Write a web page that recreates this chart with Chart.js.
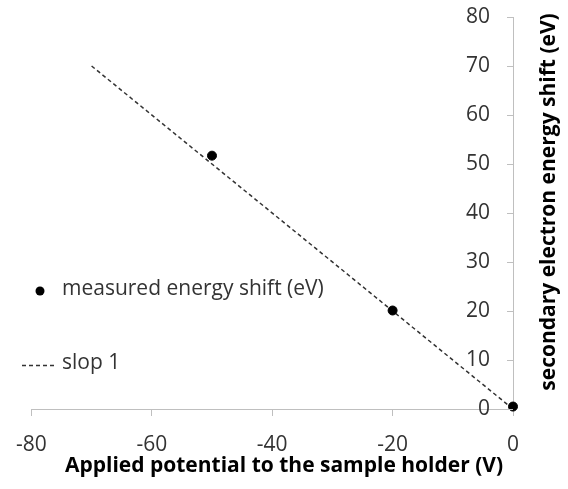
<!DOCTYPE html>
<html>
<head>
<meta charset="utf-8">
<title>Energy shift vs applied potential</title>
<script src="https://cdn.jsdelivr.net/npm/chart.js@4/dist/chart.umd.min.js"></script>
<style>
    html, body { margin: 0; padding: 0; background: #fff; }
    #wrap { position: relative; width: 568px; height: 489px; }
</style>
</head>
<body>
<div id="wrap"><canvas id="shiftChart"></canvas></div>
<script>
// Measured points (applied potential V, energy shift eV)
const potentials = [-50, -20, 0];
const energyShifts = [51.7, 20.1, 0.5];

// Reference line with slope 1
const slopeX = [-70, 0];
const slopeY = [70, 0];

// Axis ticks
const xTicks = [-80, -60, -40, -20, 0];
const yTicks = [0, 10, 20, 30, 40, 50, 60, 70, 80];

const seriesLabels = ['measured energy shift (eV)', 'slop 1'];
const xTitle = 'Applied potential to the sample holder (V)';
const yTitle = 'secondary electron energy shift (eV)';

const FONT = '"Open Sans", sans-serif';
const AXIS_GREY = '#bfbfbf';
const TEXT_GREY = '#333';

const measured = potentials.map((x, i) => ({ x: x, y: energyShifts[i] }));
const slopeLine = slopeX.map((x, i) => ({ x: x, y: slopeY[i] }));

// y axis sits on the right with labels inside; titles are centred on the page
const extrasPlugin = {
    id: 'extras',
    afterDraw(chart) {
        const ctx = chart.ctx;
        const y = chart.scales.y;
        const area = chart.chartArea;
        ctx.save();

        // inward tick marks on the y axis
        ctx.strokeStyle = AXIS_GREY;
        ctx.lineWidth = 1;
        y.ticks.forEach(t => {
            const py = Math.round(y.getPixelForValue(t.value)) + 0.5;
            ctx.beginPath();
            ctx.moveTo(area.right - 6, py);
            ctx.lineTo(area.right, py);
            ctx.stroke();
        });

        // x axis title
        ctx.fillStyle = '#000';
        ctx.font = 'bold 21px ' + FONT;
        ctx.textAlign = 'center';
        ctx.textBaseline = 'middle';
        ctx.fillText(xTitle, chart.width / 2, 466);

        // y axis title, reading bottom-to-top
        ctx.translate(549, (area.top + area.bottom) / 2 - 11);
        ctx.rotate(-Math.PI / 2);
        ctx.fillText(yTitle, 0, 0);
        ctx.restore();

        // legend inside the plot
        const ds = chart.data.datasets;
        ctx.save();
        ctx.font = '21px ' + FONT;
        ctx.textBaseline = 'middle';
        ctx.textAlign = 'left';

        ctx.beginPath();
        ctx.arc(40, 291, ds[0].pointRadius, 0, Math.PI * 2);
        ctx.fillStyle = ds[0].backgroundColor;
        ctx.fill();
        ctx.fillStyle = TEXT_GREY;
        ctx.fillText(ds[0].label, 62, 289);

        ctx.beginPath();
        ctx.setLineDash(ds[1].borderDash);
        ctx.strokeStyle = ds[1].borderColor;
        ctx.lineWidth = ds[1].borderWidth;
        ctx.moveTo(22, 365.5);
        ctx.lineTo(56, 365.5);
        ctx.stroke();
        ctx.setLineDash([]);
        ctx.fillText(ds[1].label, 62, 363);
        ctx.restore();
    }
};

new Chart(document.getElementById('shiftChart'), {
    type: 'scatter',
    data: {
        datasets: [
            {
                label: seriesLabels[0],
                data: measured,
                backgroundColor: '#000',
                borderColor: '#000',
                pointRadius: 4.5,
                pointHoverRadius: 4.5,
                showLine: false,
                clip: false,
                order: 0
            },
            {
                label: seriesLabels[1],
                data: slopeLine,
                showLine: true,
                borderColor: '#333',
                borderWidth: 1.5,
                borderDash: [4, 3],
                pointRadius: 0,
                fill: false,
                order: 1
            }
        ]
    },
    options: {
        responsive: true,
        maintainAspectRatio: false,
        animation: false,
        layout: { padding: { left: 30, top: 17, right: 0, bottom: 0 } },
        plugins: {
            legend: { display: false },
            tooltip: { enabled: false }
        },
        scales: {
            x: {
                type: 'linear',
                position: 'bottom',
                min: -80,
                max: 0,
                afterBuildTicks: scale => { scale.ticks = xTicks.map(v => ({ value: v })); },
                afterFit: scale => { scale.height = 80; },
                ticks: {
                    color: TEXT_GREY,
                    padding: 16,
                    font: { family: FONT, size: 21 }
                },
                grid: {
                    drawOnChartArea: false,
                    drawTicks: true,
                    tickLength: 7,
                    color: AXIS_GREY
                },
                border: { color: AXIS_GREY },
                title: { display: false }
            },
            y: {
                type: 'linear',
                position: 'right',
                min: 0,
                max: 80,
                afterBuildTicks: scale => { scale.ticks = yTicks.map(v => ({ value: v })); },
                afterFit: scale => { scale.width = 55; },
                ticks: {
                    mirror: true,
                    padding: -23,
                    color: TEXT_GREY,
                    font: { family: FONT, size: 21 }
                },
                grid: {
                    drawOnChartArea: false,
                    drawTicks: false,
                    color: AXIS_GREY
                },
                border: { color: AXIS_GREY }
            }
        }
    },
    plugins: [extrasPlugin]
});
</script>
</body>
</html>
